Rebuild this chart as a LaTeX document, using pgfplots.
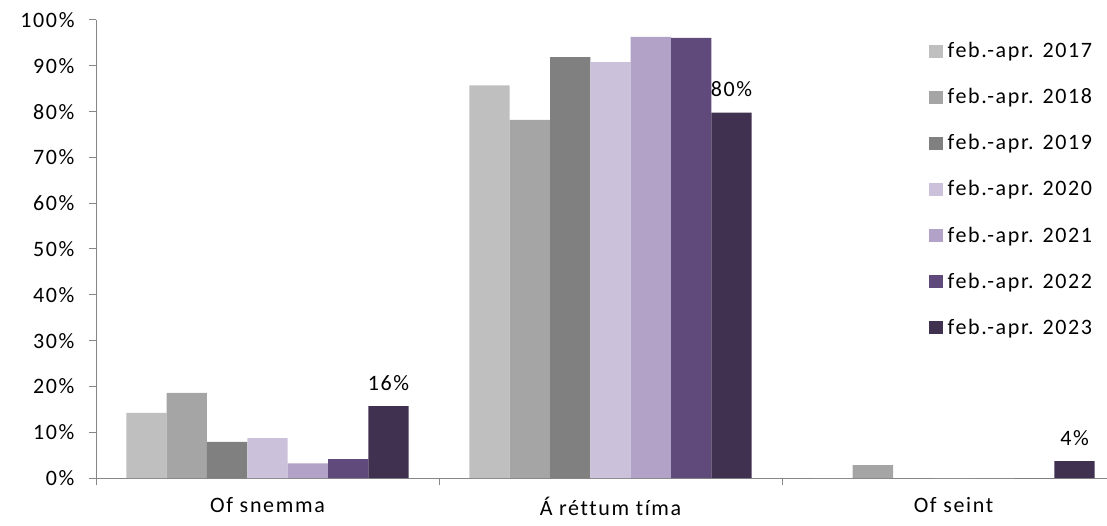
\documentclass[border=0pt]{standalone}
\usepackage{fontspec}
\setmainfont{Carlito}[LetterSpace=7.5, Ligatures={NoCommon}]
\usepackage{pgfplots}
\pgfplotsset{compat=1.18}
\definecolor{c17}{HTML}{BFBFBF}
\definecolor{c18}{HTML}{A5A5A5}
\definecolor{c19}{HTML}{808080}
\definecolor{c20}{HTML}{CCC1DA}
\definecolor{c21}{HTML}{B3A2C7}
\definecolor{c22}{HTML}{604A7B}
\definecolor{c23}{HTML}{403151}
\definecolor{axisgrey}{HTML}{868686}
\begin{document}
\fontsize{22}{25}\selectfont
\begin{tikzpicture}
\useasboundingbox (0,0) rectangle (1107pt,525pt);
\begin{axis}[
  at={(96pt,47pt)}, anchor=south west,
  scale only axis, width=1011pt, height=458pt,
  xmin=-0.5, xmax=2.4475, ymin=0, ymax=100,
  ybar=0pt, bar width=0.1176,
  axis lines=left,
  axis line style={-, draw=axisgrey, line width=1pt},
  tick align=outside, major tick length=7pt,
  tick style={draw=axisgrey, line width=1pt},
  xtick={-0.5,0.5,1.5},
  xticklabels={Of snemma, Á réttum tíma, Of seint},
  xticklabel style={xshift=171.5pt, yshift=-5pt},
  ytick={0,10,...,100},
  /pgf/number format/assume math mode=true,
  yticklabel={\pgfmathprintnumber{\tick}\%},
  yticklabel style={xshift=-7pt},
  ticklabel style={font=\fontsize{22}{25}\selectfont},
  legend style={at={(0.8205,0.958)}, anchor=north west, draw=none, fill=none,
    row sep=25.5pt, font=\fontsize{22}{25}\selectfont,
    nodes={inner sep=1pt}},
  legend cell align=left,
  legend image code/.code={\fill[#1] (0pt,-6pt) rectangle (14pt,7pt); \path (18pt,0pt);},
  clip=false,
]
\addplot[fill=c17, draw=none] coordinates {(0,14.2) (1,85.7) (2,0)};
\addplot[fill=c18, draw=none] coordinates {(0,18.6) (1,78.2) (2,2.8)};
\addplot[fill=c19, draw=none] coordinates {(0,7.9) (1,91.9) (2,0)};
\addplot[fill=c20, draw=none] coordinates {(0,8.7) (1,90.8) (2,0)};
\addplot[fill=c21, draw=none] coordinates {(0,3.2) (1,96.3) (2,0)};
\addplot[fill=c22, draw=none] coordinates {(0,4.1) (1,96.1) (2,0)};
\addplot[fill=c23, draw=none,
  nodes near coords={\pgfmathprintnumber[fixed,precision=0]{\pgfplotspointmeta}\%},
  every node near coord/.append style={font=\fontsize{22}{25}\selectfont, yshift=8pt, text=black}]
  coordinates {(0,15.7) (1,79.8) (2,3.7)};
\legend{feb.-apr. 2017, feb.-apr. 2018, feb.-apr. 2019, feb.-apr. 2020, feb.-apr. 2021, feb.-apr. 2022, feb.-apr. 2023}
\end{axis}
\end{tikzpicture}
\end{document}
